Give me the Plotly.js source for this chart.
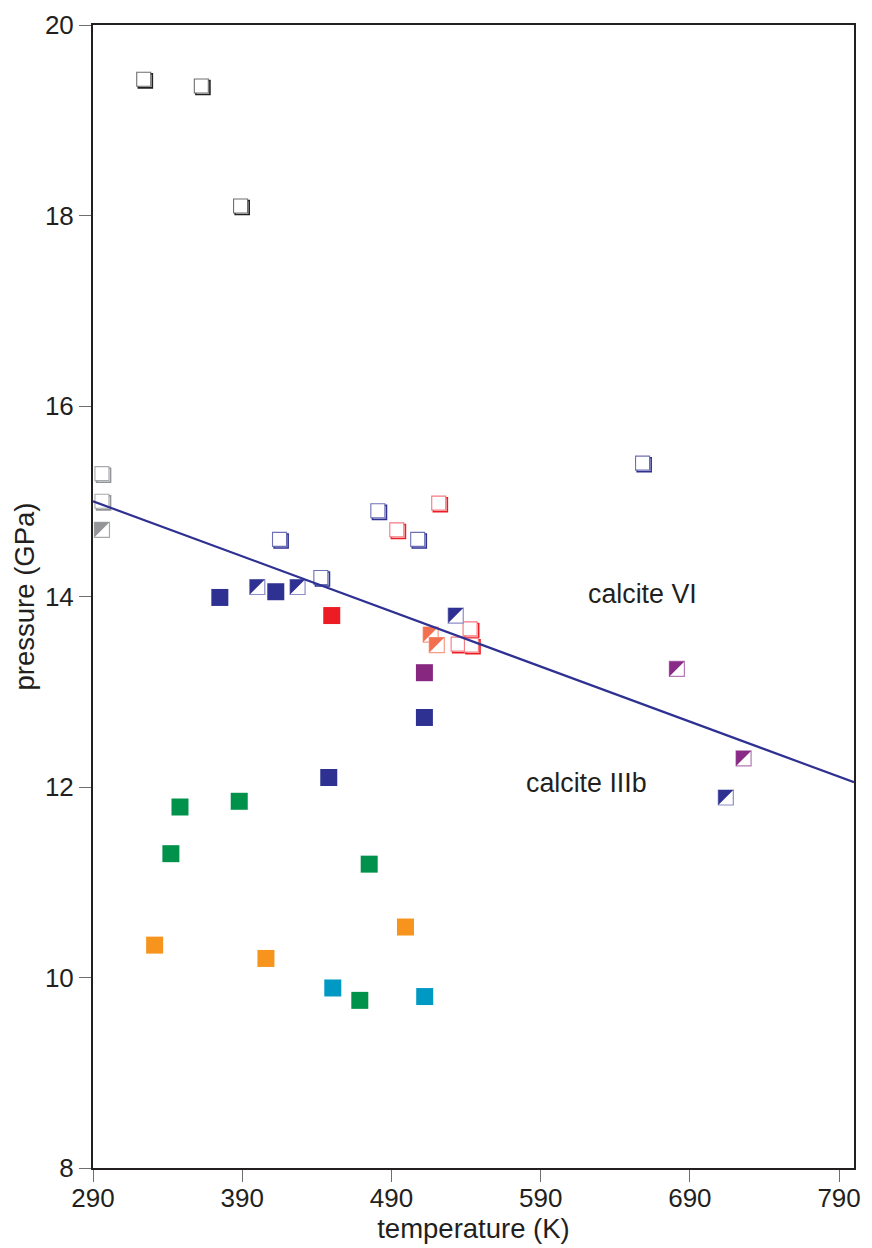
<!DOCTYPE html>
<html>
<head>
<meta charset="utf-8">
<script src="https://cdn.plot.ly/plotly-3.0.1.min.js"></script>
<style>
  html, body { margin: 0; padding: 0; background: #ffffff; }
  #chart { width: 872px; height: 1248px; }
</style>
</head>
<body>
<div id="chart"></div>
<script>
// ---- data (temperature K, pressure GPa) ----
const blackOpenT = [324.0, 362.6, 388.9];
const blackOpenP = [19.43, 19.36, 18.10];

const grayOpenT = [296, 296];
const grayOpenP = [15.29, 15.00];

const grayHalfT = [296];
const grayHalfP = [14.70];

const blueOpenT = [415.0, 480.9, 507.6, 442.7, 658.3];
const blueOpenP = [14.60, 14.90, 14.60, 14.20, 15.40];

const redOpenT = [493.6, 521.7, 542.7, 534.7, 543.6];
const redOpenP = [14.70, 14.98, 13.66, 13.50, 13.49];

const blueHalfT = [400.1, 427.1, 533.1, 714.1];
const blueHalfP = [14.10, 14.10, 13.80, 11.89];

const salmonHalfT = [516.3, 520.4];
const salmonHalfP = [13.60, 13.49];

const purpleHalfT = [681.3, 726.0];
const purpleHalfP = [13.24, 12.30];

const blueFilledT = [375.0, 412.5, 512.1, 448.0];
const blueFilledP = [13.99, 14.05, 12.73, 12.10];

const redFilledT = [450.0];
const redFilledP = [13.80];

const purpleFilledT = [512.1];
const purpleFilledP = [13.20];

const greenFilledT = [348.3, 388.0, 342.2, 475.1, 468.8];
const greenFilledP = [11.79, 11.85, 11.30, 11.19, 9.76];

const orangeFilledT = [331.3, 405.9, 499.4];
const orangeFilledP = [10.34, 10.20, 10.53];

const cyanFilledT = [450.7, 512.3];
const cyanFilledP = [9.89, 9.80];

const boundaryT = [290, 800];
const boundaryP = [15.00, 12.05];

const labelText = ["calcite VI", "calcite IIIb"];
const labelT = [658, 620.5];
const labelP = [14.03, 12.04];

const xTicks = [290, 390, 490, 590, 690, 790];
const yTicks = [8, 10, 12, 14, 16, 18, 20];

// ---- styles ----
const INK = '#231f20';
const traces = [];
const shadowIdx = [];
const halfIdx = [];

function openSquares(T, P, outline, shadow) {
  shadowIdx.push(traces.length);
  traces.push({x: T, y: P, type: 'scatter', mode: 'markers', hoverinfo: 'skip',
    marker: {symbol: 'square-open', size: 14, color: shadow, line: {width: 1.6, color: shadow}}});
  traces.push({x: T, y: P, type: 'scatter', mode: 'markers', hoverinfo: 'skip',
    marker: {symbol: 'square', size: 14, color: '#ffffff', line: {width: 1.1, color: outline}}});
}
function halfSquares(T, P, fill, outline) {
  traces.push({x: T, y: P, type: 'scatter', mode: 'markers', hoverinfo: 'skip',
    marker: {symbol: 'square', size: 15, color: '#ffffff', line: {width: 1.2, color: outline}}});
  halfIdx.push(traces.length);
  traces.push({x: T, y: P, type: 'scatter', mode: 'markers', hoverinfo: 'skip',
    marker: {symbol: 'square', size: 16, color: fill, line: {width: 0}}});
}
function filledSquares(T, P, fill) {
  traces.push({x: T, y: P, type: 'scatter', mode: 'markers', hoverinfo: 'skip',
    marker: {symbol: 'square', size: 17, color: fill, line: {width: 0}}});
}

openSquares(blackOpenT, blackOpenP, '#6d6e71', INK);
openSquares(grayOpenT, grayOpenP, '#a7a9ac', '#939598');
halfSquares(grayHalfT, grayHalfP, '#939598', '#a7a9ac');
openSquares(blueOpenT, blueOpenP, '#6d6fb3', '#2e3192');
openSquares(redOpenT, redOpenP, '#f37a80', '#ed1c24');
halfSquares(blueHalfT, blueHalfP, '#2e3192', '#8c8ec6');
halfSquares(salmonHalfT, salmonHalfP, '#f26f50', '#f79c86');
halfSquares(purpleHalfT, purpleHalfP, '#8a2a87', '#b57ab3');
filledSquares(blueFilledT, blueFilledP, '#2e3192');
filledSquares(redFilledT, redFilledP, '#ed1c24');
filledSquares(purpleFilledT, purpleFilledP, '#87277f');
filledSquares(greenFilledT, greenFilledP, '#00924a');
filledSquares(orangeFilledT, orangeFilledP, '#f7941d');
filledSquares(cyanFilledT, cyanFilledP, '#0099c4');

traces.push({x: boundaryT, y: boundaryP, type: 'scatter', mode: 'lines', hoverinfo: 'skip',
  line: {color: '#2e3192', width: 2.2}});

const FONT = 'Liberation Sans, Arial, Helvetica, sans-serif';

const layout = {
  width: 872, height: 1248,
  margin: {l: 93, r: 18, t: 25, b: 80},
  paper_bgcolor: '#ffffff', plot_bgcolor: '#ffffff',
  showlegend: false,
  font: {family: FONT, color: INK, size: 26},
  xaxis: {
    range: [290, 800], tickvals: xTicks, ticktext: xTicks.map(String),
    showgrid: false, zeroline: false,
    showline: true, linecolor: INK, linewidth: 2, mirror: true,
    ticks: 'outside', ticklen: 12, tickwidth: 1, tickcolor: '#6d6e71',
    ticklabelstandoff: -6,
    tickfont: {family: FONT, size: 26, color: INK},
    title: {text: 'temperature (K)', font: {family: FONT, size: 27.5, color: INK}, standoff: 0}
  },
  yaxis: {
    range: [8, 20], tickvals: yTicks, ticktext: yTicks.map(String),
    showgrid: false, zeroline: false,
    showline: true, linecolor: INK, linewidth: 2, mirror: true,
    ticks: 'outside', ticklen: 12, tickwidth: 1, tickcolor: '#6d6e71',
    tickfont: {family: FONT, size: 26, color: INK},
    title: {text: 'pressure (GPa)', font: {family: FONT, size: 27.5, color: INK}, standoff: 2}
  },
  annotations: labelText.map((t, i) => ({
    x: labelT[i], y: labelP[i], xref: 'x', yref: 'y', text: t, showarrow: false,
    font: {family: FONT, size: 26.8, color: INK}, xanchor: 'center', yanchor: 'middle'
  }))
};

Plotly.newPlot('chart', traces, layout, {displayModeBar: false, staticPlot: true}).then(gd => {
  const groups = gd.querySelectorAll('.scatterlayer .trace');
  // drop-shadow offset for open squares
  shadowIdx.forEach(i => {
    const g = groups[i] && groups[i].querySelector('g.points');
    if (g) g.setAttribute('transform', 'translate(1.6,1.6)');
  });
  // turn the filled overlay into the upper-left half of the square
  halfIdx.forEach(i => {
    if (!groups[i]) return;
    groups[i].querySelectorAll('path.point').forEach(p => {
      const r = 7.5;
      p.setAttribute('d', 'M' + r + ',-' + r + 'H-' + r + 'V' + r + 'Z');
    });
  });
});
</script>
</body>
</html>
